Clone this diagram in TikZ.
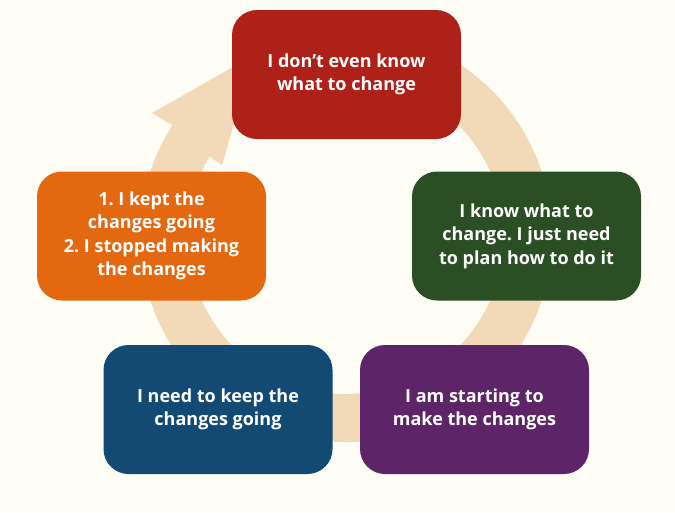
\documentclass[tikz,border=0pt]{standalone}
\usepackage{fontspec}
\setmainfont{Open Sans}
\usetikzlibrary{calc}
\definecolor{bgc}{HTML}{FFFEF6}
\definecolor{ringc}{HTML}{F2D9B8}
\definecolor{redc}{HTML}{AE2119}
\definecolor{greenc}{HTML}{2C4E24}
\definecolor{purplec}{HTML}{5D2467}
\definecolor{bluec}{HTML}{124A74}
\definecolor{orangec}{HTML}{E4680F}
\frenchspacing
\begin{document}
\begin{tikzpicture}[x=1pt,y=1pt,
  stagebox/.style={rectangle, rounded corners=25pt, minimum width=229pt, minimum height=129pt,
    text=white, align=center, inner sep=0pt,
    font=\fontsize{18pt}{23.5pt}\selectfont\bfseries}]
\fill[bgc] (0,0) rectangle (675,-512);
\useasboundingbox (0,0) rectangle (675,-512);
\coordinate (C) at (346,-236);
% ring with arrowhead
\fill[ringc] ($(C)+(60:206pt)$) arc[start angle=60, end angle=-212.5, radius=206pt]
  -- (152,-113) -- (254,-55) -- (222,-165)
  -- ($(C)+(-210.2:158pt)$) arc[start angle=-210.2, end angle=60, radius=158pt] -- cycle;
% stages
\node[stagebox, fill=redc] (s1) at (346.5,-74.5) {I don’t even know\\what to change};
\node[stagebox, fill=greenc] (s2) at (526.5,-236) {I know what to\\change. I just need\\to plan how to do it};
\node[stagebox, fill=purplec] (s3) at (474.5,-409.5) {I am starting to\\make the changes};
\node[stagebox, fill=bluec] (s4) at (218,-409.5) {I need to keep the\\changes going};
\node[stagebox, fill=orangec] (s5) at (151.5,-236) {1. I kept the\\changes going\\2. I stopped making\\the changes};
\end{tikzpicture}
\end{document}
